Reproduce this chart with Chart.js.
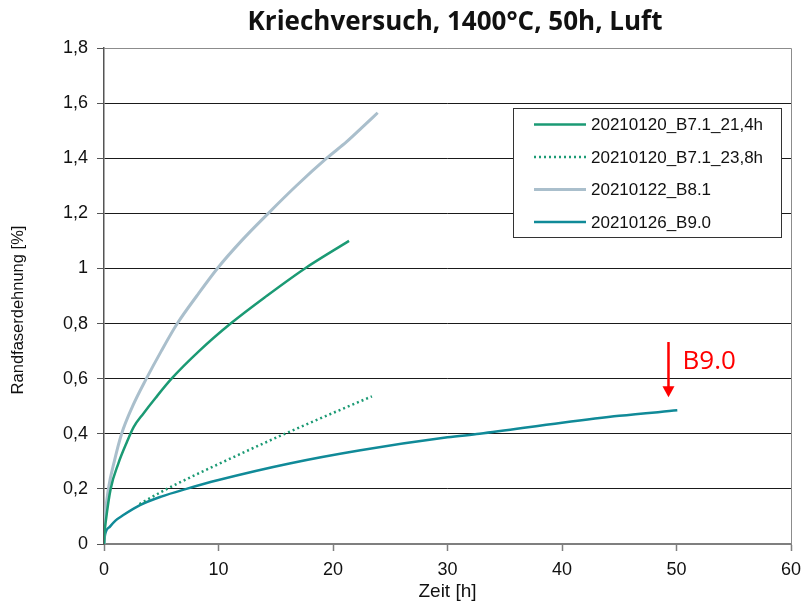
<!DOCTYPE html>
<html>
<head>
<meta charset="utf-8">
<title>Kriechversuch</title>
<script src="https://cdn.jsdelivr.net/npm/chart.js@4/dist/chart.umd.min.js"></script>
<style>
    html, body { margin: 0; padding: 0; background: #ffffff; }
    #wrap { width: 805px; height: 603px; }
</style>
</head>
<body>
<div id="wrap"><canvas id="chartCanvas" width="805" height="603"></canvas></div>
<script>
// Zeit [h] / Randfaserdehnung [%] pairs for each sample
const timeB71a = [0, 0.05, 0.17, 0.58, 1.25, 2.0, 2.6, 3.43, 4.5, 5.9, 8.3, 11.06, 14.2, 17.55, 21.4];
const strainB71a = [0, 0.04, 0.087, 0.2, 0.292, 0.37, 0.425, 0.473, 0.53, 0.6, 0.7, 0.8, 0.9, 1.0, 1.10];

const timeB71b = [3.1, 5.5, 10, 15.8, 23.4];
const strainB71b = [0.145, 0.2, 0.29, 0.40, 0.536];

const timeB81 = [0, 0.03, 0.1, 0.38, 0.9, 1.54, 2.5, 3.7, 5, 6.4, 8.1, 9.9, 12, 14.35, 16.8, 19.45, 21.2, 22.5, 23.9];
const strainB81 = [0, 0.05, 0.1, 0.2, 0.3, 0.4, 0.5, 0.6, 0.7, 0.8, 0.9, 1.0, 1.1, 1.2, 1.3, 1.4, 1.46, 1.51, 1.565];

const timeB90 = [0, 0.1, 0.52, 1, 1.69, 3.14, 5, 7.2, 10, 16.2, 22.4, 30, 32.8, 40, 45, 50.07];
const strainB90 = [0, 0.035, 0.063, 0.085, 0.105, 0.141, 0.172, 0.2, 0.232, 0.292, 0.34, 0.387, 0.40, 0.44, 0.465, 0.485];

const seriesLabels = ['20210120_B7.1_21,4h', '20210120_B7.1_23,8h', '20210122_B8.1', '20210126_B9.0'];

const xTicks = [0, 10, 20, 30, 40, 50, 60];
const yTicks = [0, 0.2, 0.4, 0.6, 0.8, 1.0, 1.2, 1.4, 1.6, 1.8];

// end-of-test marker for B9.0
const markerTime = 49.3;
const markerFrom = 0.733;
const markerTo = 0.533;
const markerText = 'B9.0';

const titleText = 'Kriechversuch, 1400°C, 50h, Luft';
const yTitleText = 'Randfaserdehnung [%]';

function toPoints(xs, ys) {
    return xs.map((x, i) => ({ x: x, y: ys[i] }));
}

function formatDE(v) {
    return String(Number(v.toFixed(1))).replace('.', ',');
}

const titlePlugin = {
    id: 'plotTitle',
    afterDraw(chart) {
        const ctx = chart.ctx;
        ctx.save();
        ctx.font = 'bold 26px "Open Sans", sans-serif';
        ctx.fillStyle = '#111111';
        ctx.textAlign = 'center';
        ctx.textBaseline = 'middle';
        ctx.fillText(titleText, 455, 23);

        // y axis title, rotated
        ctx.translate(18, 310);
        ctx.rotate(-Math.PI / 2);
        ctx.font = '16.5px "Liberation Sans", Arial, sans-serif';
        ctx.fillText(yTitleText, 0, 0);
        ctx.restore();
    }
};

const framePlugin = {
    id: 'frame',
    beforeDatasetsDraw(chart) {
        const { ctx, chartArea } = chart;
        ctx.save();
        ctx.strokeStyle = '#8c8c8c';
        ctx.lineWidth = 1;
        ctx.beginPath();
        ctx.moveTo(chartArea.left, chartArea.top + 0.5);
        ctx.lineTo(chartArea.right + 0.5, chartArea.top + 0.5);
        ctx.lineTo(chartArea.right + 0.5, chartArea.bottom);
        ctx.stroke();
        ctx.restore();
    }
};

const markerPlugin = {
    id: 'marker',
    afterDatasetsDraw(chart) {
        const { ctx, scales } = chart;
        const x = scales.x.getPixelForValue(markerTime);
        const y1 = scales.y.getPixelForValue(markerFrom);
        const y2 = scales.y.getPixelForValue(markerTo);
        ctx.save();
        ctx.strokeStyle = '#ff0000';
        ctx.fillStyle = '#ff0000';
        ctx.lineWidth = 2.5;
        ctx.beginPath();
        ctx.moveTo(x, y1);
        ctx.lineTo(x, y2 - 10);
        ctx.stroke();
        ctx.beginPath();
        ctx.moveTo(x - 6, y2 - 11);
        ctx.lineTo(x + 6, y2 - 11);
        ctx.lineTo(x, y2);
        ctx.closePath();
        ctx.fill();
        ctx.font = '26px "Open Sans", sans-serif';
        ctx.textAlign = 'left';
        ctx.textBaseline = 'middle';
        ctx.fillText(markerText, x + 14, y1 + 20);
        ctx.restore();
    }
};

const legendPlugin = {
    id: 'boxLegend',
    afterDraw(chart) {
        const ctx = chart.ctx;
        const left = 513.5, top = 108.5, w = 268, h = 129;
        ctx.save();
        ctx.fillStyle = '#ffffff';
        ctx.fillRect(left, top, w, h);
        ctx.strokeStyle = '#333333';
        ctx.lineWidth = 1;
        ctx.strokeRect(left, top, w, h);
        ctx.font = '17px "Liberation Sans", Arial, sans-serif';
        ctx.textBaseline = 'middle';
        ctx.textAlign = 'left';
        chart.data.datasets.forEach((ds, i) => {
            const y = 124.5 + i * 32.5;
            ctx.strokeStyle = ds.borderColor;
            ctx.lineWidth = ds.borderWidth;
            ctx.setLineDash(ds.borderDash || []);
            ctx.beginPath();
            ctx.moveTo(534, y);
            ctx.lineTo(586, y);
            ctx.stroke();
            ctx.setLineDash([]);
            ctx.fillStyle = '#111111';
            ctx.fillText(ds.label, 591, y + 1);
        });
        ctx.restore();
    }
};

function drawChart() {
    const ctx = document.getElementById('chartCanvas').getContext('2d');

    new Chart(ctx, {
        type: 'scatter',
        data: {
            datasets: [
                {
                    label: seriesLabels[0],
                    data: toPoints(timeB71a, strainB71a),
                    borderColor: '#1b9a74',
                    borderWidth: 2.5
                },
                {
                    label: seriesLabels[1],
                    data: toPoints(timeB71b, strainB71b),
                    borderColor: '#1b9a74',
                    borderWidth: 2.5,
                    borderDash: [2, 3]
                },
                {
                    label: seriesLabels[2],
                    data: toPoints(timeB81, strainB81),
                    borderColor: '#aabfcc',
                    borderWidth: 3
                },
                {
                    label: seriesLabels[3],
                    data: toPoints(timeB90, strainB90),
                    borderColor: '#108a98',
                    borderWidth: 2.5
                }
            ].map(ds => Object.assign(ds, {
                showLine: true,
                pointRadius: 0,
                pointHoverRadius: 0,
                fill: false,
                cubicInterpolationMode: 'monotone'
            }))
        },
        options: {
            responsive: false,
            animation: false,
            layout: { padding: { top: 48, right: 14, left: 0, bottom: 0 } },
            plugins: {
                legend: { display: false },
                title: { display: false },
                tooltip: { enabled: false }
            },
            scales: {
                x: {
                    type: 'linear',
                    min: xTicks[0],
                    max: xTicks[xTicks.length - 1],
                    afterBuildTicks: (s) => { s.ticks = xTicks.map(v => ({ value: v })); },
                    afterFit: (s) => {
                        s.height = 59;
                        s.paddingLeft = 0;
                        s.paddingRight = 0;
                    },
                    grid: {
                        drawOnChartArea: false,
                        drawTicks: true,
                        tickLength: 7,
                        tickColor: '#7f7f7f',
                        tickWidth: 1.5
                    },
                    border: { color: '#7f7f7f', width: 2 },
                    ticks: {
                        padding: 8,
                        color: '#111111',
                        font: { family: '"Liberation Sans", Arial, sans-serif', size: 18 },
                        callback: (v) => formatDE(v),
                        maxRotation: 0
                    },
                    title: {
                        display: true,
                        text: 'Zeit [h]',
                        color: '#111111',
                        font: { family: '"Liberation Sans", Arial, sans-serif', size: 19 },
                        padding: { top: 0, bottom: 0 }
                    }
                },
                y: {
                    type: 'linear',
                    min: yTicks[0],
                    max: yTicks[yTicks.length - 1],
                    afterBuildTicks: (s) => { s.ticks = yTicks.map(v => ({ value: v })); },
                    afterFit: (s) => { s.width = 104; },
                    grid: {
                        drawOnChartArea: true,
                        drawTicks: true,
                        tickLength: 7,
                        color: (c) => (c.tick && c.tick.value >= 1.79 ? '#8c8c8c' : '#1a1a1a'),
                        tickColor: '#555555',
                        lineWidth: 1
                    },
                    border: { color: '#555555', width: 1.5 },
                    ticks: {
                        padding: 9,
                        color: '#111111',
                        font: { family: '"Liberation Sans", Arial, sans-serif', size: 18 },
                        callback: (v) => formatDE(v)
                    },
                    title: { display: false }
                }
            }
        },
        plugins: [framePlugin, markerPlugin, legendPlugin, titlePlugin]
    });
}

drawChart();
</script>
</body>
</html>
